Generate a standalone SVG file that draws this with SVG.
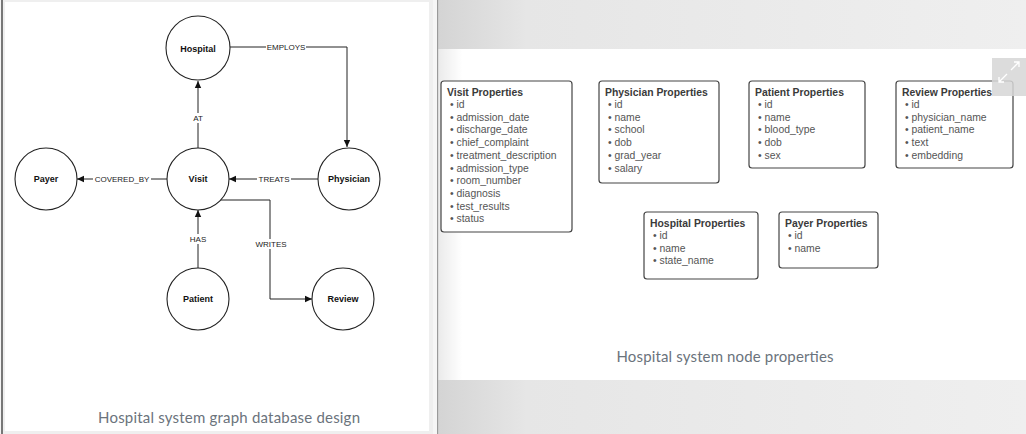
<svg xmlns="http://www.w3.org/2000/svg" width="1026" height="434" viewBox="0 0 1026 434">
<defs>
<marker id="arr" markerWidth="8" markerHeight="8" refX="7" refY="4" orient="auto" markerUnits="userSpaceOnUse">
<path d="M0,0.8 L7,4 L0,7.2 Z" fill="#111"/>
</marker>
<linearGradient id="topg" x1="0" y1="0" x2="1" y2="0">
<stop offset="0" stop-color="#d4d4d4"/>
<stop offset="0.15" stop-color="#e6e6e6"/>
<stop offset="1" stop-color="#efefef"/>
</linearGradient>
<linearGradient id="sideg" x1="0" y1="0" x2="1" y2="0">
<stop offset="0" stop-color="#000" stop-opacity="0.08"/>
<stop offset="1" stop-color="#000" stop-opacity="0"/>
</linearGradient>
</defs>
<style>
.circ{fill:#fff;stroke:#222;stroke-width:1.1}
.nl{font-family:"Liberation Sans",Arial,sans-serif;font-size:9px;font-weight:bold;fill:#111;text-anchor:middle;dominant-baseline:central}
.el{font-family:"Liberation Sans",Arial,sans-serif;font-size:8px;fill:#222;text-anchor:middle;dominant-baseline:central}
.elbg{fill:#fff}
.edge{fill:none;stroke:#222;stroke-width:1}
.box{fill:#fff;stroke:#444;stroke-width:1.2}
.pt{font-family:"Liberation Sans",Arial,sans-serif;font-size:10.4px;font-weight:bold;fill:#3a3a3a}
.pi{font-family:"Liberation Sans",Arial,sans-serif;font-size:10.4px;fill:#555}
.cap{font-family:"Source Sans Pro",Lato,"Noto Sans",sans-serif;font-size:15px;fill:#6b737c;text-anchor:middle}
</style>
<!-- backgrounds -->
<rect x="0" y="0" width="1026" height="434" fill="#efefef"/>
<rect x="0" y="0" width="1" height="434" fill="#f4f4f4"/>
<rect x="1" y="0" width="2" height="434" fill="#777"/>
<rect x="5" y="2" width="424" height="429" fill="#fff"/>
<rect x="433" y="0" width="4" height="434" fill="#f6f6f6"/>
<rect x="437" y="0" width="1.5" height="434" fill="#9a9a9a"/>
<rect x="438.5" y="0" width="587.5" height="434" fill="url(#topg)"/>
<rect x="438.5" y="49" width="587.5" height="331" fill="#fff"/>
<rect x="438.5" y="49" width="24" height="331" fill="url(#sideg)"/>
<!-- connectors -->
<g id="connectors">
<path class="edge" d="M230,47 H347 V147" marker-end="url(#arr)"/>
<path class="edge" d="M198,148 V81" marker-end="url(#arr)"/>
<path class="edge" d="M167,179 H77" marker-end="url(#arr)"/>
<path class="edge" d="M318,179 H229" marker-end="url(#arr)"/>
<path class="edge" d="M198,268 V210" marker-end="url(#arr)"/>
<path class="edge" d="M220,200 H270 V299 H312" marker-end="url(#arr)"/>
<rect class="elbg" x="266" y="42" width="40" height="10"/>
<text class="el" x="286" y="47">EMPLOYS</text>
<rect class="elbg" x="191" y="113" width="14" height="10"/>
<text class="el" x="198" y="118">AT</text>
<rect class="elbg" x="93" y="174" width="58" height="10"/>
<text class="el" x="122" y="179">COVERED_BY</text>
<rect class="elbg" x="257" y="174" width="34" height="10"/>
<text class="el" x="274" y="179">TREATS</text>
<rect class="elbg" x="188" y="234" width="20" height="10"/>
<text class="el" x="198" y="239">HAS</text>
<rect class="elbg" x="253" y="239" width="36" height="10"/>
<text class="el" x="271" y="244">WRITES</text>
</g>
<!-- nodes -->
<g id="hospital"><circle class="circ" cx="198" cy="48" r="32"/><text class="nl" x="198" y="49">Hospital</text></g>
<g id="visit"><circle class="circ" cx="198" cy="179" r="31"/><text class="nl" x="198" y="179">Visit</text></g>
<g id="payer"><circle class="circ" cx="46" cy="179" r="31"/><text class="nl" x="46" y="179">Payer</text></g>
<g id="physician"><circle class="circ" cx="349" cy="179" r="31"/><text class="nl" x="349" y="179">Physician</text></g>
<g id="patient"><circle class="circ" cx="198" cy="299" r="31"/><text class="nl" x="198" y="299">Patient</text></g>
<g id="review"><circle class="circ" cx="343" cy="299" r="31"/><text class="nl" x="343" y="299">Review</text></g>
<text class="cap" x="229" y="423" textLength="262">Hospital system graph database design</text>
<!-- property boxes -->
<g id="visit-props">
<rect class="box" x="441" y="81" width="131" height="151" rx="3"/>
<text class="pt" x="447" y="96">Visit Properties</text>
<g class="pi">
<text x="450" y="108">• id</text>
<text x="450" y="120.7">• admission_date</text>
<text x="450" y="133.4">• discharge_date</text>
<text x="450" y="146.1">• chief_complaint</text>
<text x="450" y="158.8">• treatment_description</text>
<text x="450" y="171.5">• admission_type</text>
<text x="450" y="184.2">• room_number</text>
<text x="450" y="196.9">• diagnosis</text>
<text x="450" y="209.6">• test_results</text>
<text x="450" y="222.3">• status</text>
</g>
</g>
<g id="physician-props">
<rect class="box" x="599" y="81" width="120" height="102" rx="3"/>
<text class="pt" x="605" y="96">Physician Properties</text>
<g class="pi">
<text x="608" y="108">• id</text>
<text x="608" y="120.7">• name</text>
<text x="608" y="133.4">• school</text>
<text x="608" y="146.1">• dob</text>
<text x="608" y="158.8">• grad_year</text>
<text x="608" y="171.5">• salary</text>
</g>
</g>
<g id="patient-props">
<rect class="box" x="749" y="81" width="116" height="87" rx="3"/>
<text class="pt" x="755" y="96">Patient Properties</text>
<g class="pi">
<text x="758" y="108">• id</text>
<text x="758" y="120.7">• name</text>
<text x="758" y="133.4">• blood_type</text>
<text x="758" y="146.1">• dob</text>
<text x="758" y="158.8">• sex</text>
</g>
</g>
<g id="review-props">
<rect class="box" x="896" y="81" width="117" height="87" rx="3"/>
<text class="pt" x="902" y="96">Review Properties</text>
<g class="pi">
<text x="905" y="108">• id</text>
<text x="905" y="120.7">• physician_name</text>
<text x="905" y="133.4">• patient_name</text>
<text x="905" y="146.1">• text</text>
<text x="905" y="158.8">• embedding</text>
</g>
</g>
<g id="hospital-props">
<rect class="box" x="644" y="212" width="114" height="67" rx="3"/>
<text class="pt" x="650" y="227">Hospital Properties</text>
<g class="pi">
<text x="653" y="239">• id</text>
<text x="653" y="251.7">• name</text>
<text x="653" y="264.4">• state_name</text>
</g>
</g>
<g id="payer-props">
<rect class="box" x="779" y="212" width="99" height="56" rx="3"/>
<text class="pt" x="785" y="227">Payer Properties</text>
<g class="pi">
<text x="788" y="239">• id</text>
<text x="788" y="251.7">• name</text>
</g>
</g>
<text class="cap" x="725" y="362" textLength="217">Hospital system node properties</text>
<!-- expand icon -->
<g id="expand-icon">
<rect x="992" y="58" width="34" height="38" fill="#d6d6d6" fill-opacity="0.85"/>
<g stroke="#fff" stroke-width="1.3" fill="none">
<path d="M1011,70 L1019,62 M1014,62 H1019 V67"/>
<path d="M1007,74 L999,82 M999,77 V82 H1004"/>
</g>
</g>
</svg>
